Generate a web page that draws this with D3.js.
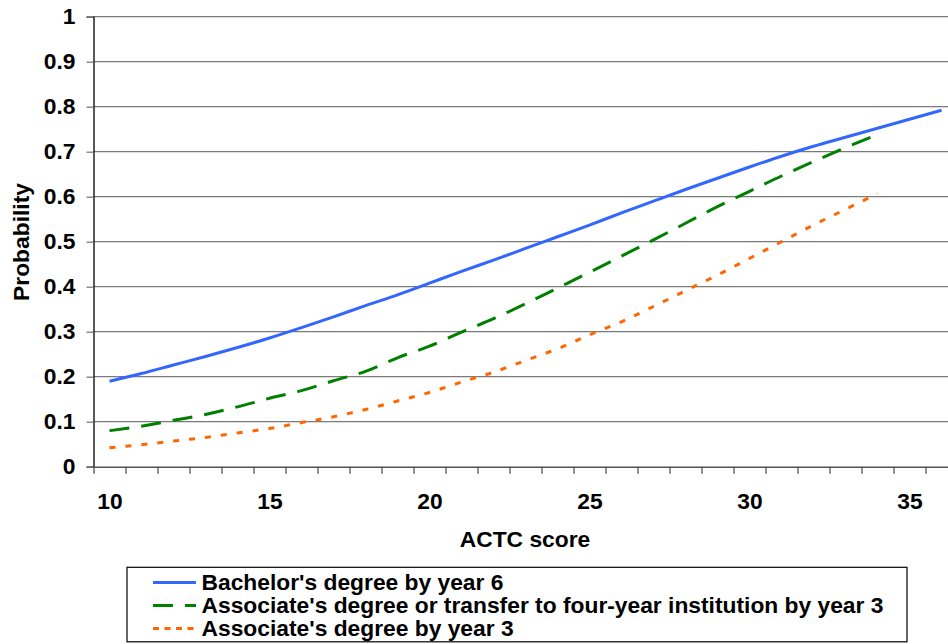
<!DOCTYPE html>
<html>
<head>
<meta charset="utf-8">
<script src="https://cdn.jsdelivr.net/npm/d3@7"></script>
<style>
  html, body { margin: 0; padding: 0; background: #fff; overflow: hidden; }
  svg { display: block; font-family: "Liberation Sans", Arial, sans-serif; }
</style>
</head>
<body>
<svg id="chart" width="948" height="644"></svg>
<script>
// ---- data ----
const categories = d3.range(10, 37); // ACTC scores 10..36
const xTickLabels = [10, 15, 20, 25, 30, 35];
const yTickValues = [0, 0.1, 0.2, 0.3, 0.4, 0.5, 0.6, 0.7, 0.8, 0.9, 1];

const seriesNames = [
  "Bachelor's degree by year 6",
  "Associate's degree or transfer to four-year institution by year 3",
  "Associate's degree by year 3"
];
const bachelorY6 = [0.190,0.207,0.226,0.245,0.265,0.286,0.309,0.333,0.358,0.382,0.408,0.434,0.459,0.485,0.511,0.537,0.564,0.590,0.616,0.641,0.666,0.690,0.712,0.732,0.752,0.772,0.792];
const assocOrTransferY3 = [0.080,0.090,0.103,0.116,0.133,0.152,0.169,0.191,0.212,0.242,0.268,0.299,0.329,0.362,0.397,0.432,0.468,0.504,0.541,0.578,0.612,0.646,0.678,0.709,0.738];
const assocY3 = [0.042,0.049,0.057,0.065,0.075,0.085,0.098,0.111,0.127,0.146,0.165,0.188,0.210,0.236,0.262,0.293,0.322,0.356,0.391,0.426,0.463,0.500,0.537,0.572,0.607];

(function () {
// ---- layout ----
const svg = d3.select("#chart");
const W = 948;
const plotLeft = 93.5, plotBottom = 466.7, plotTop = 16.7;
const band = 32;
const x = d3.scaleLinear()
  .domain([categories[0] - 0.5, categories[categories.length - 1] + 0.5])
  .range([plotLeft, plotLeft + band * categories.length]);
const y = d3.scaleLinear().domain([0, 1]).range([plotBottom, plotTop]);

const font = "bold 22.8px 'Liberation Sans', Arial, sans-serif";

// gridlines
svg.append("g")
  .selectAll("line")
  .data(yTickValues.filter(v => v > 0))
  .join("line")
  .attr("x1", plotLeft).attr("x2", W)
  .attr("y1", d => y(d)).attr("y2", d => y(d))
  .attr("stroke", "#7a7a7a").attr("stroke-width", 1.3);

// y axis
const yAxis = svg.append("g")
  .attr("transform", `translate(${plotLeft},0)`)
  .call(d3.axisLeft(y).tickValues(yTickValues).tickSize(7).tickPadding(11)
    .tickFormat(d => String(+d.toFixed(1))));
yAxis.select(".domain").attr("stroke", "#000").attr("stroke-width", 1.3);
yAxis.selectAll(".tick line").attr("stroke", "#7a7a7a").attr("stroke-width", 1.3);
yAxis.selectAll("text").style("font", font).attr("fill", "#000");

// x axis ticks (between categories)
const xTicks = svg.append("g")
  .attr("transform", `translate(0,${plotBottom})`)
  .call(d3.axisBottom(x)
    .tickValues(d3.range(categories[0] - 0.5, categories[categories.length - 1] + 1, 1))
    .tickSize(7).tickSizeOuter(0).tickFormat(""));
xTicks.select(".domain").attr("stroke", "#555").attr("stroke-width", 1.6);
xTicks.selectAll(".tick line").attr("stroke", "#555").attr("stroke-width", 1.3);

// x axis labels
const xLabels = svg.append("g")
  .attr("transform", `translate(0,${plotBottom})`)
  .call(d3.axisBottom(x).tickValues(xTickLabels).tickSize(0).tickPadding(26));
xLabels.select(".domain").remove();
xLabels.selectAll("text").style("font", font).attr("fill", "#000");

// axis titles
svg.append("text")
  .attr("x", 525).attr("y", 547)
  .attr("text-anchor", "middle")
  .style("font", font)
  .text("ACTC score");
svg.append("text")
  .attr("transform", "translate(29,242) rotate(-90)")
  .attr("text-anchor", "middle")
  .style("font", font)
  .text("Probability");

// series
const series = [
  { name: seriesNames[0], values: bachelorY6, color: "#3366ff", dash: null, legendDash: null },
  { name: seriesNames[1], values: assocOrTransferY3, color: "#008000", dash: "20,12", legendDash: "20,12" },
  { name: seriesNames[2], values: assocY3, color: "#ff6600", dash: "6,10", legendDash: "6,5.5" }
];

const line = d3.line()
  .x((d, i) => x(categories[i]))
  .y(d => y(d))
  .curve(d3.curveMonotoneX);

svg.append("g")
  .selectAll("path")
  .data(series)
  .join("path")
  .attr("d", d => line(d.values))
  .attr("fill", "none")
  .attr("stroke", d => d.color)
  .attr("stroke-width", 3)
  .attr("stroke-dasharray", d => d.dash);

// legend
const lg = svg.append("g");
lg.append("rect")
  .attr("x", 127).attr("y", 567.3)
  .attr("width", 780).attr("height", 74.5)
  .attr("fill", "#fff").attr("stroke", "#000").attr("stroke-width", 1.2);
const rows = lg.selectAll("g.row")
  .data(series)
  .join("g")
  .attr("class", "row")
  .attr("transform", (d, i) => `translate(0,${590 + i * 23})`);
rows.append("line")
  .attr("x1", 153).attr("x2", 196)
  .attr("y1", -7.5).attr("y2", -7.5)
  .attr("stroke", d => d.color)
  .attr("stroke-width", 3)
  .attr("stroke-dasharray", d => d.legendDash);
rows.append("text")
  .attr("x", 201.5).attr("y", 0)
  .style("font", font)
  .text(d => d.name);
})();
</script>
</body>
</html>
